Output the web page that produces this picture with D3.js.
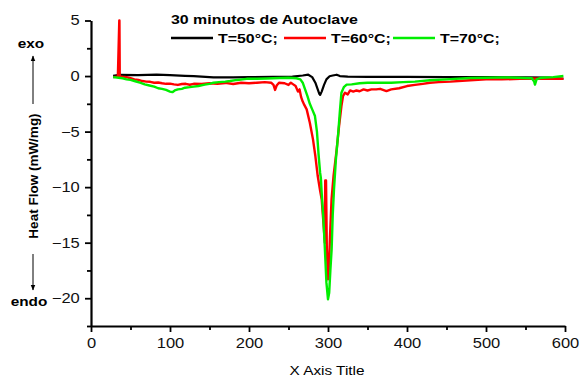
<!DOCTYPE html>
<html>
<head>
<meta charset="utf-8">
<script src="https://cdn.jsdelivr.net/npm/d3@7"></script>
<style>
  body { margin: 0; background: #fff; }
  svg { font-family: Arial, "Liberation Sans", sans-serif; }
</style>
</head>
<body>
<div id="caja"></div>
<script>
// datos (temperatura, flujo de calor)
var tNegro = [28, 36, 60, 83, 100, 119, 130, 155, 180, 200, 230, 255, 268, 275, 280, 284, 287, 289, 290, 292, 295, 298, 302, 306, 311, 315, 325, 350, 400, 450, 500, 550, 580, 590, 598];
var vNegro = [0.02, 0.1, 0.08, 0.13, 0.08, 0.02, 0.0, -0.12, -0.12, -0.1, -0.08, -0.05, 0.05, 0.12, -0.1, -0.6, -1.2, -1.6, -1.7, -1.4, -0.8, -0.3, -0.02, 0.05, 0.12, 0.0, -0.05, -0.08, -0.08, -0.1, -0.1, -0.12, -0.15, -0.2, -0.25];

var tRojo = [28, 34, 35.8, 36, 36.4, 40, 45, 50, 55, 60, 65, 70, 75, 80, 85, 90, 95, 100, 105, 110, 115, 120, 125, 130, 140, 150, 160, 170, 180, 190, 200, 210, 220, 228, 231, 233, 235, 238, 245, 250, 253, 256, 259, 262, 264, 266, 268, 270, 273, 277, 281, 284, 287, 290, 292, 294, 296, 296.5, 297.5, 298.5, 300, 301, 302.5, 304.5, 307, 311, 314, 317, 319, 321.5, 325, 328, 332, 336, 340, 345, 350, 355, 361, 366, 374, 380, 390, 400, 410, 420, 429, 440, 455, 470, 480, 500, 520, 543, 560, 580, 598];
var vRojo = [-0.1, -0.05, 5, 5, 0, -0.05, -0.1, -0.2, -0.3, -0.35, -0.45, -0.5, -0.52, -0.6, -0.58, -0.65, -0.7, -0.68, -0.75, -0.8, -0.72, -0.7, -0.78, -0.7, -0.72, -0.65, -0.7, -0.62, -0.72, -0.6, -0.65, -0.6, -0.55, -0.6, -0.8, -1.25, -0.85, -0.6, -0.65, -0.8, -0.6, -0.75, -0.9, -1.4, -1.2, -1.9, -2.3, -2.6, -3.0, -4.2, -5.7, -7.2, -9.0, -10.3, -11.1, -13, -15, -9.4, -9.4, -15.5, -18.3, -17.5, -14.5, -11.1, -9, -6.6, -4.5, -2.7, -1.8, -1.5, -1.65, -1.3, -1.4, -1.3, -1.37, -1.2, -1.3, -1.2, -1.2, -1.15, -1.35, -1.2, -1.1, -0.9, -0.8, -0.7, -0.6, -0.55, -0.5, -0.42, -0.38, -0.3, -0.3, -0.25, -0.22, -0.25, -0.25];

var tVerde = [28, 35, 40, 45, 50, 56, 62, 68, 74, 80, 85, 90, 95, 100, 103, 106, 110, 115, 119, 125, 130, 136, 144, 150, 155, 162, 170, 176, 185, 197, 210, 222, 239, 250, 260, 265, 268, 271, 274, 277, 280, 283.5, 286, 288, 290, 291, 292, 294, 296, 298, 300, 301.5, 303, 304.6, 306, 307.6, 310, 313, 315, 317, 320, 323.6, 330, 340, 350, 366, 380, 395, 410, 429, 450, 480, 500, 520, 540, 558, 561, 562, 564, 570, 585, 598];
var vVerde = [-0.1, -0.15, -0.2, -0.3, -0.35, -0.47, -0.6, -0.75, -0.85, -0.95, -1.1, -1.15, -1.25, -1.4, -1.45, -1.3, -1.2, -1.15, -1.05, -1.0, -0.95, -0.9, -0.77, -0.7, -0.6, -0.55, -0.5, -0.45, -0.35, -0.25, -0.25, -0.22, -0.17, -0.15, -0.2, -0.3, -0.6, -1.2, -1.8, -2.5, -3.0, -3.6, -5, -7, -8.7, -9.2, -10.5, -12.6, -15.5, -18.6, -20.1, -19.5, -17.5, -15.6, -12.5, -10.2, -7.5, -5.1, -3.2, -1.5, -1.0, -0.77, -0.75, -0.65, -0.6, -0.6, -0.6, -0.55, -0.5, -0.38, -0.3, -0.17, -0.15, -0.12, -0.15, -0.2, -0.5, -0.77, -0.3, -0.15, -0.1, 0.0];

var xTicks = [0, 100, 200, 300, 400, 500, 600];
var xMinor = [50, 150, 250, 350, 450, 550];
var yTicks = [5, 0, -5, -10, -15, -20];
var yMinor = [2.5, -2.5, -7.5, -12.5, -17.5, -22.5];

var series = [
  {nombre: "T=50°C;", t: tNegro, v: vNegro, color: "#000000"},
  {nombre: "T=60°C;", t: tRojo, v: vRojo, color: "#ff0000"},
  {nombre: "T=70°C;", t: tVerde, v: vVerde, color: "#00ee00"}
];

var w = 580, h = 380;
var sx = 1.18; // el original esta estirado en horizontal

var chart = d3.select('#caja')
  .append('svg')
  .attr('width', w)
  .attr('height', h);

var x = d3.scaleLinear().domain([0, 600]).range([91, 565]);
var y = d3.scaleLinear().domain([-22.5, 5]).range([326, 20.5]);

// curvas
var line = d3.line()
  .x(function(d) { return x(d[0]); })
  .y(function(d) { return y(d[1]); });

chart.append("g").selectAll("path")
  .data(series)
  .enter()
  .append("path")
  .attr("d", function(s) { return line(d3.zip(s.t, s.v)); })
  .attr("fill", "none")
  .attr("stroke", function(s) { return s.color; })
  .attr("stroke-width", function(s, i) { return i == 0 ? 2.2 : 2.4; })
  .attr("stroke-linejoin", "round");

// ejes
var xAxis = chart.append("g")
  .attr("transform", "translate(0," + y(-22.5) + ")")
  .call(d3.axisBottom(x).tickValues(xTicks).tickSize(6).tickPadding(6).tickSizeOuter(0));
chart.append("g")
  .attr("transform", "translate(0," + y(-22.5) + ")")
  .call(d3.axisBottom(x).tickValues(xMinor).tickSize(4).tickFormat("").tickSizeOuter(0))
  .select(".domain").remove();

var yAxis = chart.append("g")
  .attr("transform", "translate(" + x(0) + ",0)")
  .call(d3.axisLeft(y).tickValues(yTicks).tickSize(6).tickSizeOuter(0));
chart.append("g")
  .attr("transform", "translate(" + x(0) + ",0)")
  .call(d3.axisLeft(y).tickValues(yMinor).tickSize(4).tickFormat("").tickSizeOuter(0))
  .select(".domain").remove();

chart.selectAll(".domain").attr("stroke", "#000").attr("stroke-width", 2.2);
chart.selectAll(".tick line").attr("stroke", "#000").attr("stroke-width", 1.8);

xAxis.selectAll("text")
  .style("font-size", "14px")
  .style("font-family", "Arial, 'Liberation Sans', sans-serif")
  .attr("fill", "#111")
  .attr("transform", "scale(" + sx + ",1)");
yAxis.selectAll("text")
  .style("font-size", "14px")
  .style("font-family", "Arial, 'Liberation Sans', sans-serif")
  .attr("fill", "#111")
  .attr("x", -9.5)
  .attr("transform", "scale(" + sx + ",1)");

// titulos de ejes
chart.append("text")
  .attr("transform", "translate(327,375) scale(" + sx + ",1)")
  .attr("text-anchor", "middle")
  .style("font-size", "13px")
  .text("X Axis Title");

chart.append("text")
  .attr("transform", "translate(38,176) rotate(-90)")
  .attr("text-anchor", "middle")
  .style("font-size", "13.5px")
  .style("font-weight", "bold")
  .text("Heat Flow (mW/mg)");

chart.append("text")
  .attr("transform", "translate(31,48) scale(" + sx + ",1)")
  .attr("text-anchor", "middle")
  .style("font-size", "13px")
  .style("font-weight", "bold")
  .text("exo");
chart.append("text")
  .attr("transform", "translate(29,306) scale(" + sx + ",1)")
  .attr("text-anchor", "middle")
  .style("font-size", "13px")
  .style("font-weight", "bold")
  .text("endo");

// flechas exo / endo
chart.append("defs").append("marker")
  .attr("id", "punta")
  .attr("viewBox", "0 0 10 10")
  .attr("refX", 9).attr("refY", 5)
  .attr("markerWidth", 6).attr("markerHeight", 6)
  .attr("orient", "auto")
  .append("path")
  .attr("d", "M0,1 L10,5 L0,9 z")
  .attr("fill", "#000");
chart.append("line")
  .attr("x1", 33).attr("y1", 104).attr("x2", 33).attr("y2", 56)
  .attr("stroke", "#000").attr("stroke-width", 1)
  .attr("marker-end", "url(#punta)");
chart.append("line")
  .attr("x1", 33).attr("y1", 254).attr("x2", 33).attr("y2", 290)
  .attr("stroke", "#000").attr("stroke-width", 1)
  .attr("marker-end", "url(#punta)");

// leyenda
chart.append("text")
  .attr("transform", "translate(171,24) scale(" + sx + ",1)")
  .style("font-size", "13.5px")
  .style("font-weight", "bold")
  .text("30 minutos de Autoclave");

var legX = [171, 284, 393];
var ley = chart.append("g").selectAll("g")
  .data(series)
  .enter()
  .append("g")
  .attr("transform", function(d, i) { return "translate(" + legX[i] + ",38)"; });
ley.append("line")
  .attr("x1", 0).attr("x2", 42)
  .attr("stroke", function(d) { return d.color; })
  .attr("stroke-width", 2.4);
ley.append("text")
  .attr("transform", "translate(47,5) scale(" + sx + ",1)")
  .style("font-size", "13.5px")
  .style("font-weight", "bold")
  .text(function(d) { return d.nombre; });
</script>
</body>
</html>
